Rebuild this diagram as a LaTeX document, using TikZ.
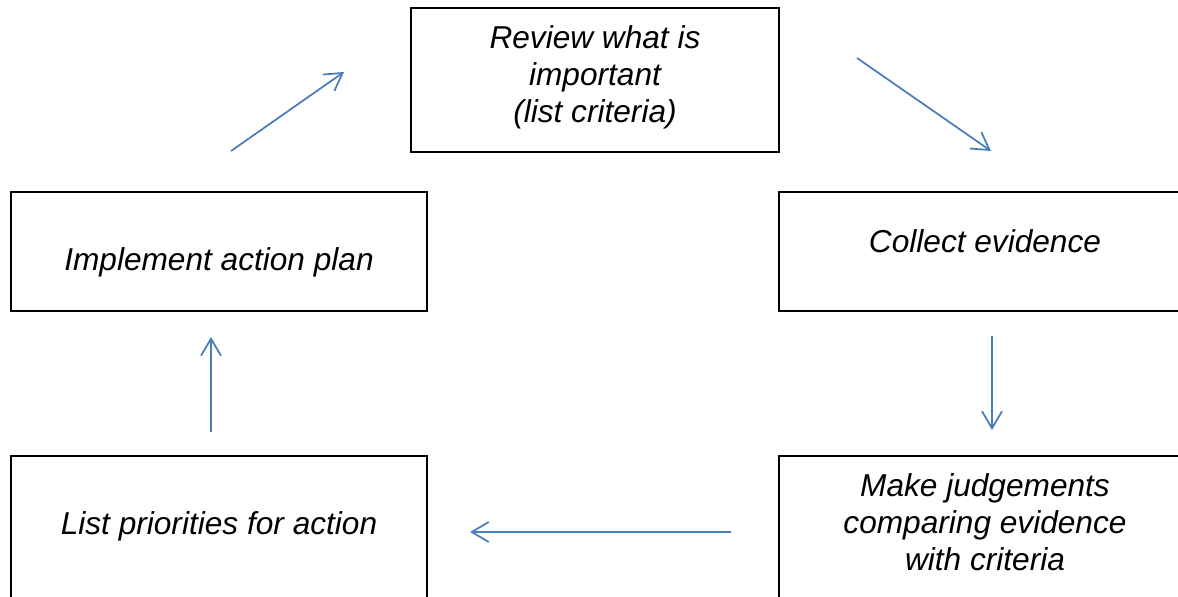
\documentclass[tikz,border=0pt]{standalone}
\usepackage{fontspec}
\setmainfont{Liberation Sans}
\usepackage{tikz}
\usetikzlibrary{positioning}
\usetikzlibrary{arrows.meta}
\definecolor{myblue}{RGB}{74,126,187}
\tikzset{box node/.style={rectangle,draw=black,line width=0.8pt,inner sep=0pt},
         text node/.style={align=center,text=black,font=\fontsize{18}{21}\selectfont\itshape},}

\begin{document}
\begin{tikzpicture}[-{Straight Barb[length=0.34cm,width=0.4cm]}, myblue, line width=1pt]
	\useasboundingbox (0,0) rectangle (23.56,-11.92);
	% boxes
	\node[box node, minimum width=7.36cm, minimum height=2.88cm] (review) at (11.9,-1.6) {};
	\node[box node, minimum width=8.32cm, minimum height=2.38cm] (implement) at (4.38,-5.03) {};
	\node[box node, minimum width=8.36cm, minimum height=2.38cm] (collect) at (19.76,-5.03) {};
	\node[box node, minimum width=8.32cm, minimum height=3.0cm] (priorities) at (4.38,-10.62) {};
	\node[box node, minimum width=8.36cm, minimum height=3.0cm] (judge) at (19.76,-10.62) {};
	% texts
	\node[text node] (review-t) at ([yshift=0.06cm]review.center) {Review what is\\important\\(list criteria)};
	\node[text node] (implement-t) at ([yshift=-0.21cm]implement.center) {Implement action plan};
	\node[text node] (collect-t) at ([xshift=-0.06cm,yshift=0.21cm]collect.center) {Collect evidence};
	\node[text node] (priorities-t) at ([yshift=0.1cm]priorities.center) {List priorities for action};
	\node[text node] (judge-t) at ([xshift=-0.06cm,yshift=0.18cm]judge.center) {Make judgements\\comparing evidence\\with criteria};
	% arrow ends
	\coordinate (a1) at (4.62,-3.02);  \coordinate (b1) at (6.88,-1.44);
	\coordinate (a2) at (17.14,-1.16); \coordinate (b2) at (19.82,-3.02);
	\coordinate (a3) at (19.84,-6.72); \coordinate (b3) at (19.84,-8.6);
	\coordinate (a4) at (14.62,-10.64); \coordinate (b4) at (9.4,-10.64);
	\coordinate (a5) at (4.22,-8.64);  \coordinate (b5) at (4.22,-6.74);

	\draw (a1) -- (b1);
	\draw (a2) -- (b2);
	\draw (a3) -- (b3);
	\draw (a4) -- (b4);
	\draw (a5) -- (b5);
\end{tikzpicture}
\end{document}
